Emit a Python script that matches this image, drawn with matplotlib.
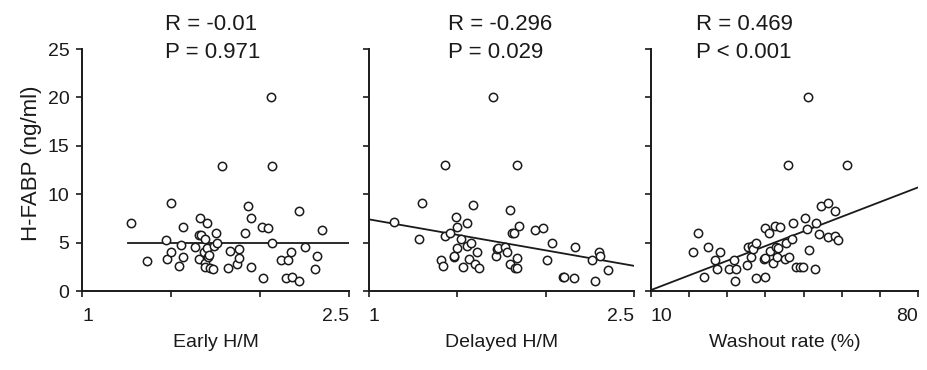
import matplotlib
matplotlib.use("Agg")
import matplotlib.pyplot as plt

plt.rcParams['font.family'] = ['Liberation Sans', 'DejaVu Sans']

# ---- data ----
early_x = [1.275, 1.363, 1.47, 1.48, 1.50, 1.50, 1.545, 1.556, 1.566, 1.57, 1.633, 1.656, 1.657, 1.663,
           1.67, 1.685, 1.69, 1.69, 1.69, 1.70, 1.70, 1.71, 1.715, 1.72, 1.737, 1.743, 1.753, 1.757,
           1.785, 1.82, 1.83, 1.873, 1.88, 1.884, 1.916, 1.934, 1.95, 1.95, 2.013, 2.015, 2.047, 2.06,
           2.066, 2.07, 2.12, 2.144, 2.16, 2.174, 2.18, 2.22, 2.22, 2.25, 2.31, 2.32, 2.35]
early_y = [7.0, 3.1, 5.3, 3.35, 9.07, 4.0, 2.6, 4.8, 3.5, 6.6, 4.5, 3.3, 5.76, 7.5,
           5.76, 4.0, 2.86, 2.5, 5.35, 7.0, 4.4, 3.55, 3.7, 2.35, 2.3, 4.6, 6.0, 5.0,
           12.96, 2.35, 4.14, 2.75, 3.38, 4.3, 5.96, 8.8, 2.5, 7.5, 6.65, 1.38, 6.48, 20.0,
           12.96, 5.0, 3.2, 1.38, 3.2, 4.0, 1.48, 8.27, 1.03, 4.5, 2.24, 3.6, 6.3]

delayed_x = [1.141, 1.285, 1.30, 1.41, 1.417, 1.43, 1.43, 1.46, 1.48, 1.483, 1.49, 1.498, 1.50, 1.52,
             1.53, 1.553, 1.553, 1.566, 1.58, 1.59, 1.598, 1.61, 1.62, 1.70, 1.717, 1.726, 1.73, 1.77,
             1.78, 1.80, 1.80, 1.81, 1.82, 1.825, 1.836, 1.838, 1.838, 1.847, 1.94, 1.987, 2.006, 2.036,
             2.096, 2.105, 2.158, 2.168, 2.264, 2.28, 2.30, 2.31, 2.35]
delayed_y = [7.1, 5.38, 9.13, 3.24, 2.62, 13.0, 5.7, 5.97, 3.5, 3.65, 7.65, 4.4, 6.65, 5.35,
             2.5, 7.07, 4.6, 3.3, 5.0, 8.86, 2.83, 4.07, 2.38, 20.0, 3.65, 4.3, 4.4, 4.55,
             4.0, 8.35, 2.76, 5.97, 5.97, 2.4, 2.4, 13.0, 3.38, 6.75, 6.34, 6.48, 3.24, 4.96,
             1.45, 1.45, 1.34, 4.58, 3.24, 1.03, 4.0, 3.59, 2.17]

washout_x = [20.9, 22.2, 23.9, 25.0, 26.9, 27.3, 28.2, 30.5, 31.8, 32.1, 32.3, 35.1, 35.4, 36.2,
             36.4, 36.7, 37.4, 37.4, 39.6, 39.8, 39.8, 40.0, 40.9, 41.2, 42.0, 42.6, 42.7, 43.0,
             43.3, 43.7, 45.1, 45.5, 46.0, 46.2, 47.0, 47.2, 48.0, 49.1, 49.9, 50.5, 51.0, 51.2,
             51.5, 53.0, 53.3, 54.0, 54.6, 56.4, 56.5, 58.3, 58.3, 59.1, 61.4]
washout_y = [4.07, 6.03, 1.45, 4.58, 3.17, 2.27, 4.03, 2.3, 3.24, 1.03, 2.3, 2.72, 4.55, 3.52,
             4.68, 4.34, 4.96, 1.31, 3.3, 6.48, 1.45, 3.38, 5.97, 4.17, 2.86, 6.72, 4.58, 3.55,
             4.45, 6.59, 3.3, 4.93, 13.0, 3.52, 5.35, 7.0, 2.45, 2.45, 2.48, 7.52, 6.38, 20.06,
             4.24, 2.3, 7.0, 5.86, 8.82, 5.62, 9.07, 8.3, 5.69, 5.27, 13.0]

# fitted lines: (x_start, x_end), (y_start, y_end)
early_fit_x = [1.26, 2.5]
early_fit_y = [5.0, 5.0]
delayed_fit_x = [1.0, 2.5]
delayed_fit_y = [7.4, 2.6]
washout_fit_x = [10, 80]
washout_fit_y = [0.1, 10.7]

r_texts = ["R = -0.01", "R = -0.296", "R = 0.469"]
p_texts = ["P = 0.971", "P = 0.029", "P < 0.001"]
x_labels = ["Early H/M", "Delayed H/M", "Washout rate (%)"]
y_label = "H-FABP (ng/ml)"
y_ticks = [0, 5, 10, 15, 20, 25]

W, H = 927, 370
fig = plt.figure(figsize=(W / 100, H / 100), dpi=100)

ink = '#1a1a1a'
panels = [
    dict(x=early_x, y=early_y, fx=early_fit_x, fy=early_fit_y, xlim=(1, 2.5),
         ticks=[1, 1.5, 2.0, 2.5], labels=['1', '', '', '2.5'], left=82, right=349, tx=165),
    dict(x=delayed_x, y=delayed_y, fx=delayed_fit_x, fy=delayed_fit_y, xlim=(1, 2.5),
         ticks=[1, 1.5, 2.0, 2.5], labels=['1', '', '', '2.5'], left=369, right=634, tx=448),
    dict(x=washout_x, y=washout_y, fx=washout_fit_x, fy=washout_fit_y, xlim=(10, 80),
         ticks=[10, 20, 30, 40, 50, 60, 70, 80], labels=['10', '', '', '', '', '', '', '80'],
         left=651, right=918, tx=696),
]
top_px, bot_px = 49, 291

for i, p in enumerate(panels):
    ax = fig.add_axes([p['left'] / W, 1 - bot_px / H, (p['right'] - p['left']) / W, (bot_px - top_px) / H])
    ax.plot(p['fx'], p['fy'], color=ink, lw=1.3, zorder=2)
    ax.scatter(p['x'], p['y'], s=36, facecolors='white', edgecolors=ink, linewidths=1.1, zorder=3)
    ax.set_xlim(*p['xlim'])
    ax.set_ylim(0, 25)
    for s in ['top', 'right']:
        ax.spines[s].set_visible(False)
    for s in ['left', 'bottom']:
        ax.spines[s].set_color(ink)
        ax.spines[s].set_linewidth(1.4)
    ax.set_xticks(p['ticks'])
    ax.set_xticklabels(p['labels'])
    tl = ax.get_xticklabels()
    tl[0].set_horizontalalignment('left')
    tl[-1].set_horizontalalignment('right')
    ax.set_yticks(y_ticks)
    if i == 0:
        ax.set_yticklabels([str(v) for v in y_ticks])
    else:
        ax.set_yticklabels([])
    ax.tick_params(axis='both', direction='out', length=4, width=1.2, color=ink,
                   labelsize=14, labelcolor=ink)
    ax.tick_params(axis='x', pad=8.5)
    ax.tick_params(axis='y', pad=5)
    ax.set_xlabel(x_labels[i], fontsize=14, color=ink, labelpad=6)
    ax.patch.set_alpha(0)
    fig.text(p['tx'] / W, 1 - 30 / H, r_texts[i], fontsize=16, color=ink, ha='left', va='baseline')
    fig.text(p['tx'] / W, 1 - 58 / H, p_texts[i], fontsize=16, color=ink, ha='left', va='baseline')

fig.text(42 / W, 1 - 163 / H, y_label, rotation=90, fontsize=16, color=ink, ha='right', va='center')

fig.savefig('out.png', dpi=100, facecolor='white')
